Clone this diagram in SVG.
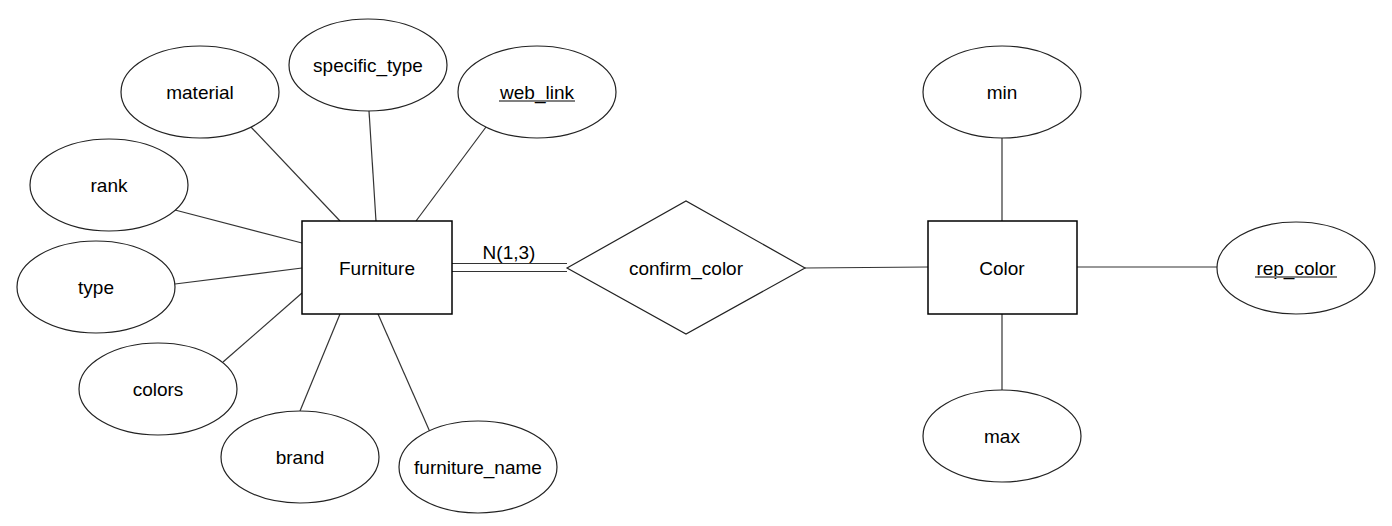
<svg xmlns="http://www.w3.org/2000/svg" width="1392" height="526" viewBox="0 0 1392 526">
<style>
.bg{fill:#fff}
ellipse{fill:#fff;stroke:#222;stroke-width:1.2}
rect.ent{fill:#fff;stroke:#000;stroke-width:1.5}
polygon{fill:#fff;stroke:#222;stroke-width:1.2}
line{stroke:#333;stroke-width:1.2}
text{font-family:"Liberation Sans",Arial,sans-serif;font-size:19px;fill:#000;text-anchor:middle}
.ul{stroke:#808080;stroke-width:2}
</style>
<rect class="bg" width="1392" height="526"/>
<g id="connectors">
<line x1="250" y1="126" x2="340" y2="221"/>
<line x1="369" y1="111" x2="376" y2="221"/>
<line x1="486" y1="127" x2="416" y2="221"/>
<line x1="175" y1="210" x2="302" y2="243"/>
<line x1="175" y1="284" x2="302" y2="268"/>
<line x1="223" y1="362" x2="302" y2="293"/>
<line x1="340" y1="314" x2="300" y2="411"/>
<line x1="378" y1="314" x2="430" y2="432"/>
<line x1="452" y1="263.5" x2="567" y2="263.5"/>
<line x1="452" y1="271.5" x2="567" y2="271.5"/>
<line x1="805" y1="268" x2="928" y2="267"/>
<line x1="1002" y1="138" x2="1002" y2="221"/>
<line x1="1002" y1="314" x2="1002" y2="390"/>
<line x1="1077" y1="267" x2="1217" y2="267"/>
<text x="509" y="259">N(1,3)</text>
</g>
<g id="material"><ellipse cx="200" cy="92" rx="79" ry="46"/><text x="200" y="99">material</text></g>
<g id="specific_type"><ellipse cx="368" cy="65" rx="79" ry="46"/><text x="368" y="72">specific_type</text></g>
<g id="web_link"><ellipse cx="537" cy="92" rx="79" ry="46"/><text x="537" y="99">web_link</text><line class="ul" x1="499" y1="101" x2="575" y2="101"/></g>
<g id="rank"><ellipse cx="109" cy="185" rx="79" ry="46"/><text x="109" y="192">rank</text></g>
<g id="type"><ellipse cx="96" cy="287" rx="79" ry="46"/><text x="96" y="294">type</text></g>
<g id="colors"><ellipse cx="158" cy="389" rx="79" ry="46"/><text x="158" y="396">colors</text></g>
<g id="brand"><ellipse cx="300" cy="457" rx="79" ry="46"/><text x="300" y="464">brand</text></g>
<g id="furniture_name"><ellipse cx="478" cy="467" rx="79" ry="46"/><text x="478" y="474">furniture_name</text></g>
<g id="Furniture"><rect class="ent" x="302" y="221" width="150" height="93"/><text x="377" y="275">Furniture</text></g>
<g id="confirm_color"><polygon points="567,268 686,201 805,268 686,334"/><text x="686" y="275">confirm_color</text></g>
<g id="Color"><rect class="ent" x="928" y="221" width="149" height="93"/><text x="1002" y="275">Color</text></g>
<g id="min"><ellipse cx="1002" cy="92" rx="79" ry="46"/><text x="1002" y="99">min</text></g>
<g id="max"><ellipse cx="1002" cy="436" rx="79" ry="46"/><text x="1002" y="443">max</text></g>
<g id="rep_color"><ellipse cx="1296" cy="268" rx="79" ry="46"/><text x="1296" y="275">rep_color</text><line class="ul" x1="1255" y1="277" x2="1337" y2="277"/></g>
</svg>
